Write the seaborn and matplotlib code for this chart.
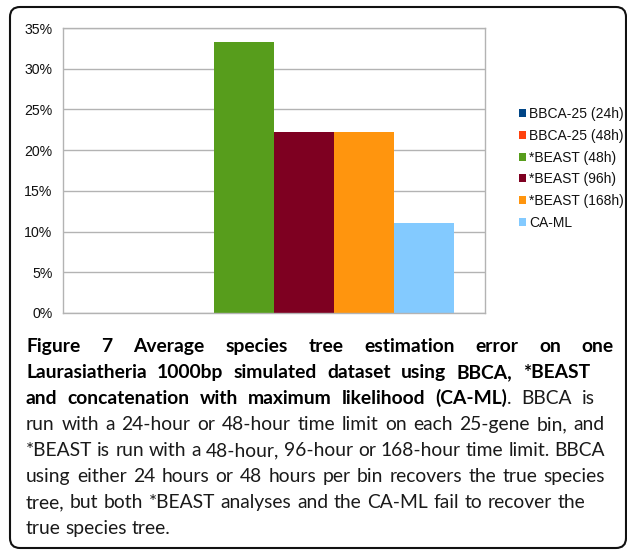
import matplotlib
matplotlib.use("Agg")
import numpy as np
import pandas as pd
import matplotlib.pyplot as plt
import seaborn as sns
from matplotlib.patches import Patch, FancyBboxPatch
from matplotlib.ticker import PercentFormatter

# Chart data
methods = ["BBCA-25 (24h)", "BBCA-25 (48h)", "*BEAST (48h)", "*BEAST (96h)", "*BEAST (168h)", "CA-ML"]
error_pct = [0.0, 0.0, 33.33, 22.22, 22.22, 11.11]
colors = ["#004586", "#ff420e", "#579d1c", "#7e0021", "#ff950e", "#83caff"]
y_ticks = [0, 5, 10, 15, 20, 25, 30, 35]

# Caption: (bold part, regular part) per printed line
caption_lines = [
    ("Figure 7 Average species tree estimation error on one", ""),
    ("Laurasiatheria 1000bp simulated dataset using BBCA, *BEAST", ""),
    ("and concatenation with maximum likelihood (CA-ML)", ". BBCA is"),
    ("", "run with a 24-hour or 48-hour time limit on each 25-gene bin, and"),
    ("", "*BEAST is run with a 48-hour, 96-hour or 168-hour time limit. BBCA"),
    ("", "using either 24 hours or 48 hours per bin recovers the true species"),
    ("", "tree, but both *BEAST analyses and the CA-ML fail to recover the"),
    ("", "true species tree."),
]
line_ends = [614, 590, 595, 605, 605, 605, 585, None]

W, H = 627, 551
sns.set_style("white")
plt.rcParams["font.family"] = ["Liberation Sans", "DejaVu Sans"]

fig = plt.figure(figsize=(W / 100, H / 100), dpi=100)
ax = fig.add_axes([63 / W, 1 - 313 / H, (485 - 63) / W, (313 - 28) / H])

df = pd.DataFrame({"group": [""] * len(methods), "method": methods, "error": error_pct})
sns.barplot(data=df, x="group", y="error", hue="method", hue_order=methods,
            palette=colors, saturation=1, width=0.855, linewidth=0,
            errorbar=None, legend=False, ax=ax)

grid_c = "#b3b3b3"
ax.set_ylim(0, 35)
ax.set_xlim(-0.5, 0.5)
ax.set_yticks(y_ticks)
ax.yaxis.set_major_formatter(PercentFormatter(xmax=100, decimals=0))
ax.set_xticks([-0.5, 0.5])
ax.set_xticklabels(["", ""])
ax.set_xlabel("")
ax.set_ylabel("")
ax.yaxis.grid(True, color=grid_c, lw=1)
ax.set_axisbelow(True)
for s in ax.spines.values():
    s.set_color(grid_c)
    s.set_linewidth(1)
ax.tick_params(axis="y", length=5, width=1, color=grid_c, pad=2.5,
               labelsize=10.2, labelcolor="#111111")
ax.tick_params(axis="x", length=5, width=1, color=grid_c)

handles = [Patch(facecolor=c, edgecolor="none") for c in colors]
fig.legend(handles, methods, loc="upper left", bbox_to_anchor=(519 / W, 1 - 107 / H),
           frameon=False, borderpad=0, borderaxespad=0, handlelength=0.5,
           handleheight=0.5, handletextpad=0.25, labelspacing=0.56,
           prop={"family": "Liberation Sans", "size": 10}, labelcolor="#111111")

# Caption, justified word by word
cap_font = ["Lato", "DejaVu Sans"]
renderer = fig.canvas.get_renderer()


def text_width(s, bold, size):
    t = fig.text(0, 0, s, fontsize=size, fontweight="bold" if bold else "normal", family=cap_font)
    w = t.get_window_extent(renderer).width
    t.remove()
    return w


def split_words(bold_part, reg_part):
    words = [[(w, True)] for w in bold_part.split()]
    reg_words = reg_part.split()
    if words and reg_words and not reg_part.startswith(" "):
        words[-1].append((reg_words[0], False))
        reg_words = reg_words[1:]
    words += [[(w, False)] for w in reg_words]
    return words


x0 = 26
ref = 10.0
lines = [split_words(b, r) for b, r in caption_lines]
ratios = []
for words, end in zip(lines, line_ends):
    if end is None:
        continue
    wsum = sum(text_width(seg, b, ref) for w in words for seg, b in w)
    sp = text_width("a a", False, ref) - text_width("aa", False, ref)
    ratios.append((end - x0) / (wsum + sp * (len(words) - 1)))
size = ref * min(ratios)

baseline = 352
for words, end in zip(lines, line_ends):
    widths = [[text_width(seg, b, size) for seg, b in w] for w in words]
    totals = [sum(ws) for ws in widths]
    if end is None:
        gap = text_width("a a", False, size) - text_width("aa", False, size)
    else:
        gap = (end - x0 - sum(totals)) / (len(words) - 1)
    x = x0
    for w, ws in zip(words, widths):
        for (seg, b), sw in zip(w, ws):
            fig.text(x / W, 1 - baseline / H, seg, fontsize=size, va="baseline", ha="left",
                     fontweight="bold" if b else "normal", family=cap_font,
                     color="#000000" if b else "#1a1a1a")
            x += sw
        x += gap
    baseline += 26

border = FancyBboxPatch((10 / 100, 3 / 100), 616 / 100, 541 / 100,
                        boxstyle="round,pad=0,rounding_size=0.1",
                        transform=fig.dpi_scale_trans, fill=False,
                        edgecolor="#111111", lw=1.5)
fig.add_artist(border)

fig.savefig("out.png", dpi=100)
